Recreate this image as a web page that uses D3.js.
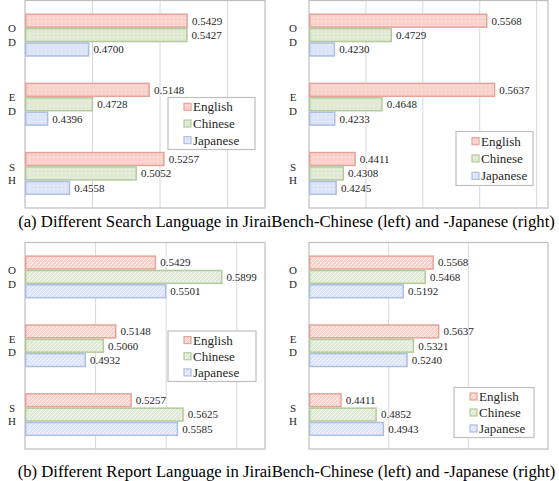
<!DOCTYPE html>
<html>
<head>
<meta charset="utf-8">
<script src="https://cdn.jsdelivr.net/npm/d3@7"></script>
<style>
  body { margin: 0; background: #fff; }
</style>
</head>
<body>
<script>
// data
var categories = ['OD', 'ED', 'SH']
var languages = ['English', 'Chinese', 'Japanese']

// rows = language (English, Chinese, Japanese), cols = category (OD, ED, SH)
var searchZh = [[0.5429, 0.5148, 0.5257], [0.5427, 0.4728, 0.5052], [0.4700, 0.4396, 0.4558]]
var searchJa = [[0.5568, 0.5637, 0.4411], [0.4729, 0.4648, 0.4308], [0.4230, 0.4233, 0.4245]]
var reportZh = [[0.5429, 0.5148, 0.5257], [0.5899, 0.5060, 0.5625], [0.5501, 0.4932, 0.5585]]
var reportJa = [[0.5568, 0.5637, 0.4411], [0.5468, 0.5321, 0.4852], [0.5192, 0.5240, 0.4943]]

var captions = [
  '(a) Different Search Language in JiraiBench-Chinese (left) and -Japanese (right)',
  '(b) Different Report Language in JiraiBench-Chinese (left) and -Japanese (right)'
]

var fills = ['#f9d3cb', '#dfe9d3', '#dbe5f7']
var strokes = ['#e3a49c', '#b3cb9c', '#aebfe2']

var svg = d3.select('body').append('svg')
  .attr('width', 559).attr('height', 481)
  .style('font-family', "'Liberation Serif', 'Times New Roman', serif")

var defs = svg.append('defs')
languages.forEach(function(l, i){
  // dotted fill (top row)
  var p = defs.append('pattern').attr('id', 'dot' + i)
    .attr('width', 4).attr('height', 4).attr('patternUnits', 'userSpaceOnUse')
  p.append('rect').attr('width', 4).attr('height', 4).attr('fill', fills[i])
  p.append('rect').attr('x', 1).attr('y', 1).attr('width', 1).attr('height', 1).attr('fill', '#fff').attr('opacity', 0.7)
  // diagonal hatch (bottom row)
  var h = defs.append('pattern').attr('id', 'hatch' + i)
    .attr('width', 4).attr('height', 4).attr('patternUnits', 'userSpaceOnUse')
  h.append('rect').attr('width', 4).attr('height', 4).attr('fill', fills[i])
  h.append('path').attr('d', 'M-1,1 l2,-2 M0,4 l4,-4 M3,5 l2,-2')
    .attr('stroke', '#fff').attr('stroke-width', 0.9).attr('opacity', 0.75)
})

var panels = [
  { values: searchZh, domain: [0.4223, 0.6], step: 0.05, x0: 25, x1: 265, y0: 0.5, y1: 208, pat: 'dot', legend: [168, 97.5, 87, 52], labelX: 12 },
  { values: searchJa, domain: [0.4, 0.61], step: 0.05, x0: 309, x1: 548, y0: 0.5, y1: 208, pat: 'dot', legend: [456, 131.5, 77, 54], labelX: 293 },
  { values: reportZh, domain: [0.45, 0.62], step: 0.05, x0: 25, x1: 265, y0: 242.5, y1: 449, pat: 'hatch', legend: [168, 331, 88, 50.5], labelX: 12 },
  { values: reportJa, domain: [0.4, 0.7], step: 0.1, x0: 309, x1: 548, y0: 242.5, y1: 449, pat: 'hatch', legend: [454, 387.5, 80, 50], labelX: 293 }
]

panels.forEach(function(p){
  var g = svg.append('g')
  var x = d3.scaleLinear().domain(p.domain).range([p.x0, p.x1])
  var y = d3.scaleBand().domain(categories).range([p.y0, p.y1])
    .paddingInner(0.375).paddingOuter(0.1875)
  var yl = d3.scaleBand().domain(languages).range([0, y.bandwidth()])

  // gridlines
  var ticks = d3.range(p.domain[0] + p.step, p.domain[1] - 0.001, p.step)
  g.selectAll('.grid').data(ticks).enter().append('line')
    .attr('x1', function(d){ return x(d) }).attr('x2', function(d){ return x(d) })
    .attr('y1', p.y0).attr('y2', p.y1)
    .attr('stroke', '#d9d9d9').attr('stroke-width', 1)

  // frame
  g.append('rect').attr('x', p.x0).attr('y', p.y0)
    .attr('width', p.x1 - p.x0).attr('height', p.y1 - p.y0)
    .attr('fill', 'none').attr('stroke', '#bfbfbf').attr('stroke-width', 1.2)

  // bars
  languages.forEach(function(l, li){
    categories.forEach(function(c, ci){
      var v = p.values[li][ci]
      var by = y(c) + yl(l)
      g.append('rect')
        .attr('x', p.x0 + 0.75).attr('y', by + 0.75)
        .attr('width', x(v) - p.x0 - 1.5).attr('height', yl.bandwidth() - 1.5)
        .attr('fill', 'url(#' + p.pat + li + ')')
        .attr('stroke', strokes[li]).attr('stroke-width', 1.5)
      g.append('text')
        .attr('x', x(v) + 4).attr('y', by + yl.bandwidth() / 2)
        .attr('dy', '0.35em')
        .attr('font-size', 11).attr('fill', '#262626')
        .text(v.toFixed(4))
    })
  })

  // category labels (stacked letters)
  categories.forEach(function(c){
    var t = g.append('text').attr('text-anchor', 'middle')
      .attr('font-size', 11).attr('fill', '#262626')
    var cy = y(c) + y.bandwidth() / 2
    c.split('').forEach(function(ch, i){
      t.append('tspan').attr('x', p.labelX).attr('y', cy + (i - 0.5) * 13.5).attr('dy', '0.35em').text(ch)
    })
  })

  // legend
  var lg = p.legend
  g.append('rect').attr('x', lg[0]).attr('y', lg[1]).attr('width', lg[2]).attr('height', lg[3])
    .attr('fill', '#fff').attr('stroke', '#bfbfbf').attr('stroke-width', 1.2)
  var rowH = (lg[3] - 2) / 3
  languages.forEach(function(l, li){
    var cy = lg[1] + 1 + rowH * (li + 0.5)
    g.append('rect').attr('x', lg[0] + 16).attr('y', cy - 3.5)
      .attr('width', 7).attr('height', 7)
      .attr('fill', 'url(#' + p.pat + li + ')')
      .attr('stroke', strokes[li]).attr('stroke-width', 1.2)
    g.append('text').attr('x', lg[0] + 25).attr('y', cy).attr('dy', '0.35em')
      .attr('font-size', 13).attr('fill', '#262626').text(l)
  })
})

// captions
svg.selectAll('.cap').data(captions).enter().append('text')
  .attr('x', 286.5).attr('y', function(d, i){ return i === 0 ? 226.5 : 477 })
  .attr('text-anchor', 'middle').attr('font-size', 16.7).attr('fill', '#000')
  .text(function(d){ return d })
</script>
</body>
</html>
